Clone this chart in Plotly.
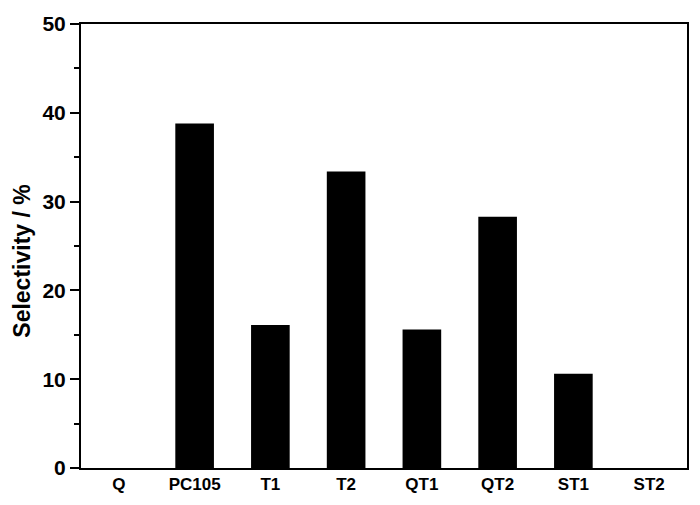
import plotly.graph_objects as go

# catalysts and measured selectivity (%)
samples = ["Q", "PC105", "T1", "T2", "QT1", "QT2", "ST1", "ST2"]
selectivity = [0, 38.8, 16.1, 33.4, 15.6, 28.3, 10.6, 0]
y_ticks = [0, 10, 20, 30, 40, 50]

fig = go.Figure(
    go.Bar(x=samples, y=selectivity, marker=dict(color="black", line=dict(width=0)))
)

# the page puts the plot 8px in from the top-left, margins allow for that
fig.update_layout(
    width=700,
    height=505,
    margin=dict(l=73, r=21, t=16, b=45, autoexpand=False),
    plot_bgcolor="white",
    paper_bgcolor="white",
    bargap=0.49,
    showlegend=False,
    font=dict(family="Liberation Sans, Arial", color="black"),
)

fig.update_xaxes(
    tickvals=samples,
    ticktext=[f"<b>{s}</b>" for s in samples],
    showline=True, linecolor="black", linewidth=2, mirror=True,
    ticks="", showgrid=False, automargin=False,
    tickfont=dict(size=17),
    range=[-0.5, 7.5],
)

fig.update_yaxes(
    range=[0, 50],
    tickvals=y_ticks,
    ticktext=[f"<b>{v}</b>" for v in y_ticks],
    tickfont=dict(size=21),
    showline=True, linecolor="black", linewidth=2, mirror=True,
    ticks="outside", ticklen=9, tickwidth=2, tickcolor="black",
    minor=dict(ticks="outside", ticklen=5, tickwidth=2, dtick=5, tickcolor="black", showgrid=False),
    showgrid=False, zeroline=False, automargin=False,
)

# y title sits a bit below the middle in the original, so place it by hand
fig.add_annotation(
    text="<b>Selectivity / %</b>",
    xref="paper", yref="paper", x=-0.098, y=0.466,
    textangle=-90, showarrow=False,
    font=dict(size=23),
    xanchor="center", yanchor="middle",
)

fig.write_html("out.html")
